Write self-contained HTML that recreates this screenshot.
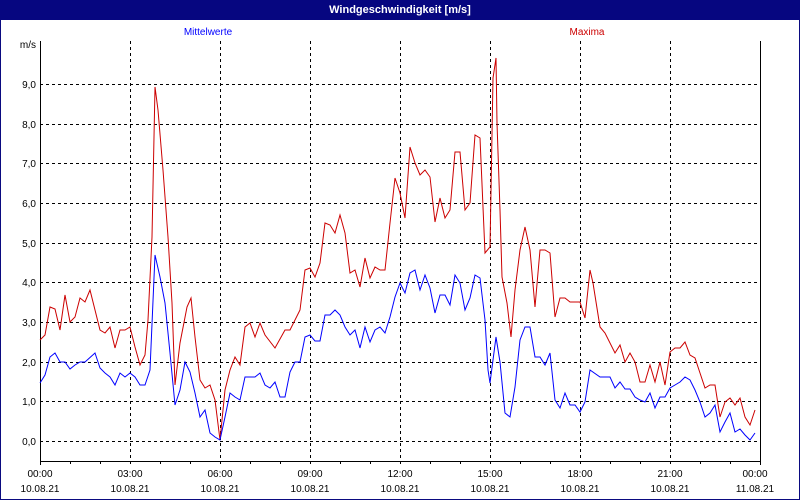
<!DOCTYPE html>
<html><head><meta charset="utf-8"><style>
html,body{margin:0;padding:0;background:#fff}
svg{display:block;font-family:"Liberation Sans",Tahoma,sans-serif}
</style></head><body>
<svg width="800" height="500" viewBox="0 0 800 500" xmlns="http://www.w3.org/2000/svg">
<rect x="0" y="0" width="800" height="500" fill="#fff"/>
<rect x="0.5" y="0.5" width="799" height="499" fill="none" stroke="#0a0a80"/>
<rect x="0" y="0" width="800" height="20" fill="#060680"/>
<text x="400" y="13" fill="#fff" font-size="11" font-weight="bold" text-anchor="middle">Windgeschwindigkeit [m/s]</text>
<text x="208" y="35" fill="#0000ff" font-size="10" text-anchor="middle">Mittelwerte</text>
<text x="587" y="35" fill="#cc0000" font-size="10" text-anchor="middle">Maxima</text>
<text x="36" y="48" font-size="10" text-anchor="end">m/s</text>
<g stroke="#000" stroke-dasharray="3,3" stroke-width="1">
<line x1="40" y1="84.5" x2="760" y2="84.5"/><line x1="40" y1="124.5" x2="760" y2="124.5"/><line x1="40" y1="163.5" x2="760" y2="163.5"/><line x1="40" y1="203.5" x2="760" y2="203.5"/><line x1="40" y1="243.5" x2="760" y2="243.5"/><line x1="40" y1="282.5" x2="760" y2="282.5"/><line x1="40" y1="322.5" x2="760" y2="322.5"/><line x1="40" y1="362.5" x2="760" y2="362.5"/><line x1="40" y1="401.5" x2="760" y2="401.5"/><line x1="40" y1="441.5" x2="760" y2="441.5"/>
<line x1="130.5" y1="41" x2="130.5" y2="461"/><line x1="220.5" y1="41" x2="220.5" y2="461"/><line x1="310.5" y1="41" x2="310.5" y2="461"/><line x1="400.5" y1="41" x2="400.5" y2="461"/><line x1="490.5" y1="41" x2="490.5" y2="461"/><line x1="580.5" y1="41" x2="580.5" y2="461"/><line x1="670.5" y1="41" x2="670.5" y2="461"/>
</g>
<g stroke="#000" stroke-width="1">
<line x1="40.5" y1="41" x2="40.5" y2="465"/><line x1="40" y1="461.5" x2="761" y2="461.5"/><line x1="760.5" y1="41" x2="760.5" y2="465"/>
<path d="M70.5 461v3M100.5 461v3M130.5 461v3M160.5 461v3M190.5 461v3M220.5 461v3M250.5 461v3M280.5 461v3M310.5 461v3M340.5 461v3M370.5 461v3M400.5 461v3M430.5 461v3M460.5 461v3M490.5 461v3M520.5 461v3M550.5 461v3M580.5 461v3M610.5 461v3M640.5 461v3M670.5 461v3M700.5 461v3M730.5 461v3"/>
</g>
<g font-size="10" text-anchor="end">
<text x="36" y="88">9,0</text><text x="36" y="128">8,0</text><text x="36" y="167">7,0</text><text x="36" y="207">6,0</text><text x="36" y="247">5,0</text><text x="36" y="286">4,0</text><text x="36" y="326">3,0</text><text x="36" y="366">2,0</text><text x="36" y="405">1,0</text><text x="36" y="445">0,0</text>
</g>
<g font-size="10" text-anchor="middle">
<text x="40" y="477">00:00</text><text x="40" y="492">10.08.21</text>
<text x="130" y="477">03:00</text><text x="130" y="492">10.08.21</text>
<text x="220" y="477">06:00</text><text x="220" y="492">10.08.21</text>
<text x="310" y="477">09:00</text><text x="310" y="492">10.08.21</text>
<text x="400" y="477">12:00</text><text x="400" y="492">10.08.21</text>
<text x="490" y="477">15:00</text><text x="490" y="492">10.08.21</text>
<text x="580" y="477">18:00</text><text x="580" y="492">10.08.21</text>
<text x="670" y="477">21:00</text><text x="670" y="492">10.08.21</text>
<text x="755" y="477">00:00</text><text x="755" y="492">11.08.21</text>
</g>
<polyline fill="none" stroke="#cc0000" stroke-width="1" points="40,340 45,335 50,307 55,309 60,330 65,295 70,322 75,317 80,298 85,302 90,290 95,310 100,330 105,333 110,327 115,348 120,330 125,330 130,327 135,347 140,365 145,355 148,320 152,237 155,87 158,110 163,170 168,237 172,303 175,385 180,343 187,307 191,298 195,337 200,380 205,388 210,385 215,400 220,440 225,390 230,370 235,357 240,365 245,327 250,323 255,337 260,323 265,335 275,348 285,330 290,330 300,310 305,270 310,268 315,277 320,263 325,223 330,225 335,233 340,215 345,233 350,273 355,270 360,287 365,258 370,278 375,267 380,270 385,270 390,223 395,178 400,193 405,218 410,147 415,163 420,175 425,170 430,177 435,222 440,198 445,218 450,210 455,152 460,152 465,210 470,203 475,135 480,138 485,253 490,247 493,78 496,58 497,123 500,210 502,277 507,303 511,337 515,290 520,250 525,227 530,250 535,307 540,250 545,250 550,253 555,317 560,298 565,298 570,302 580,302 585,318 590,270 593,283 600,327 605,333 615,353 620,345 625,362 630,353 635,362 640,382 645,382 650,365 655,382 660,362 665,385 670,352 675,348 680,348 685,342 690,355 695,358 700,373 705,388 710,385 715,385 720,417 725,402 730,398 735,405 740,398 745,417 750,425 755,410"/>
<polyline fill="none" stroke="#0000ff" stroke-width="1" points="40,383 45,375 50,357 55,353 60,362 65,362 70,369 75,365 80,362 85,362 95,353 100,368 105,373 110,377 115,385 120,373 125,377 130,373 135,377 140,385 145,385 150,370 155,255 160,277 165,303 170,353 175,405 180,390 185,362 190,372 195,393 200,417 205,410 210,433 215,437 220,440 225,417 230,393 235,397 240,400 245,377 255,377 260,373 265,385 270,388 275,382 280,397 285,397 290,372 295,362 300,362 305,337 310,335 315,341 320,341 325,315 330,315 335,310 340,315 345,327 350,335 355,330 360,348 365,327 370,342 375,330 380,327 385,333 390,317 395,297 400,283 405,293 410,273 415,270 420,290 425,275 430,288 435,313 440,295 445,295 450,305 455,275 460,283 465,310 470,298 475,275 480,278 485,320 488,370 490,383 493,360 496,337 500,362 505,413 510,417 515,387 520,340 525,327 530,327 535,357 540,357 545,365 550,353 555,400 560,408 565,393 570,405 575,405 580,412 585,402 590,370 600,377 605,377 610,377 615,388 620,382 625,389 630,389 635,397 640,400 645,402 650,393 655,408 660,397 665,397 670,388 675,385 680,382 685,377 690,380 695,390 700,402 705,417 710,413 715,405 720,432 725,422 730,413 735,432 740,429 745,435 750,440 755,433"/>
</svg>
</body></html>
